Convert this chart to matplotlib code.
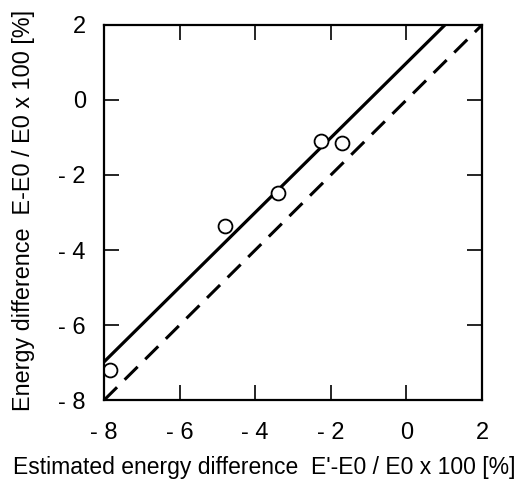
import matplotlib
matplotlib.use("Agg")
import matplotlib.pyplot as plt

plt.rcParams['font.family'] = ['Liberation Sans', 'DejaVu Sans']

# measured points (estimated vs real energy difference, %)
est_diff = [-7.85, -4.8, -3.4, -2.27, -1.7]
real_diff = [-7.2, -3.37, -2.47, -1.09, -1.15]

# regression line end points
fit_x = [-8.0, 1.02]
fit_y = [-6.98, 2.0]

# y = x reference
ref_x = [-8, 2]
ref_y = [-8, 2]

ticks = [-8, -6, -4, -2, 0, 2]
tick_labels = ["- 8", "- 6", "- 4", "- 2", "0", "2"]


def main():
    fig = plt.figure(figsize=(5.28, 4.88), dpi=100)
    ax = fig.add_axes([0.197, 0.180, 0.716, 0.769])

    ax.plot(ref_x, ref_y, color='black', linewidth=2.2, linestyle=(0, (6, 3.5)))
    ax.plot(fit_x, fit_y, color='black', linewidth=2.3, solid_capstyle='butt')
    ax.plot(est_diff, real_diff, linestyle='none', marker='o', markersize=10,
            markerfacecolor='white', markeredgecolor='black', markeredgewidth=1.3)

    ax.set_xlim(-8, 2)
    ax.set_ylim(-8, 2)
    ax.set_xticks(ticks)
    ax.set_yticks(ticks)
    ax.set_xticklabels(tick_labels)
    ax.set_yticklabels(tick_labels)

    ax.tick_params(direction='in', length=11, width=1.2, labelsize=17,
                   top=True, right=True)
    ax.tick_params(axis='x', pad=16)
    ax.tick_params(axis='y', pad=13)
    for sp in ax.spines.values():
        sp.set_linewidth(1.6)

    ax.set_xlabel("Estimated energy difference  E'-E0 / E0 x 100 [%]", fontsize=16.5)
    ax.set_ylabel("Energy difference  E-E0 / E0 x 100 [%]", fontsize=16.8)
    # label is centred on the figure, not on the axes
    ax.xaxis.set_label_coords(0.423, -0.148)
    ax.yaxis.set_label_coords(-0.183, 0.505)

    fig.savefig("out.png", dpi=100)


if __name__ == "__main__":
    main()
